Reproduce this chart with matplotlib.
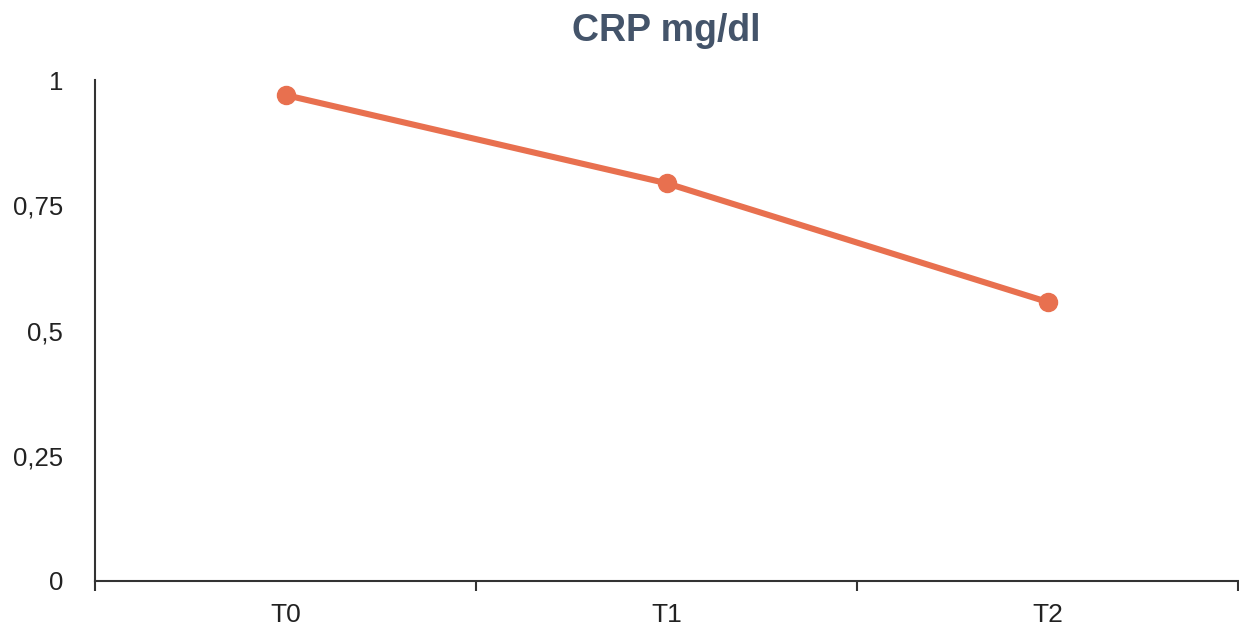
import matplotlib.pyplot as plt
from matplotlib.ticker import FixedLocator, FuncFormatter

plt.rcParams['font.family'] = ['Liberation Sans', 'DejaVu Sans']

# data
categories = ['T0', 'T1', 'T2']
crp_values = [0.97, 0.794, 0.557]
y_ticks = [0, 0.25, 0.5, 0.75, 1]

line_color = '#E8704F'
axis_color = '#333333'

fig = plt.figure(figsize=(12.39, 6.28), dpi=100)
ax = fig.add_axes([95 / 1239, 47 / 628, 1143 / 1239, 501 / 628])

x = list(range(len(categories)))
ax.plot(x, crp_values, color=line_color, linewidth=4.4, marker='o',
        markersize=13, solid_capstyle='round', zorder=3)

ax.set_xlim(-0.5, len(categories) - 0.5)
ax.set_ylim(0, 1)

# band boundaries as major ticks, labels at centres as minor
ax.xaxis.set_major_locator(FixedLocator([i - 0.5 for i in range(len(categories) + 1)]))
ax.xaxis.set_major_formatter(FuncFormatter(lambda v, p: ''))
ax.xaxis.set_minor_locator(FixedLocator(x))
ax.set_xticklabels(categories, minor=True)
ax.tick_params(axis='x', which='major', length=7, width=1.5, color=axis_color)
ax.tick_params(axis='x', which='minor', length=0, pad=16, labelsize=19, labelcolor='#222222')

ax.set_yticks(y_ticks)
ax.yaxis.set_major_formatter(FuncFormatter(lambda v, p: ('%g' % v).replace('.', ',')))
ax.tick_params(axis='y', length=0, pad=23, labelsize=18.5, labelcolor='#222222')

for s in ['top', 'right']:
    ax.spines[s].set_visible(False)
for s in ['left', 'bottom']:
    ax.spines[s].set_color(axis_color)
    ax.spines[s].set_linewidth(1.5)

ax.set_title('CRP mg/dl', fontsize=27, fontweight='bold', color='#44546A', pad=28)

fig.savefig('out.png', dpi=100)
